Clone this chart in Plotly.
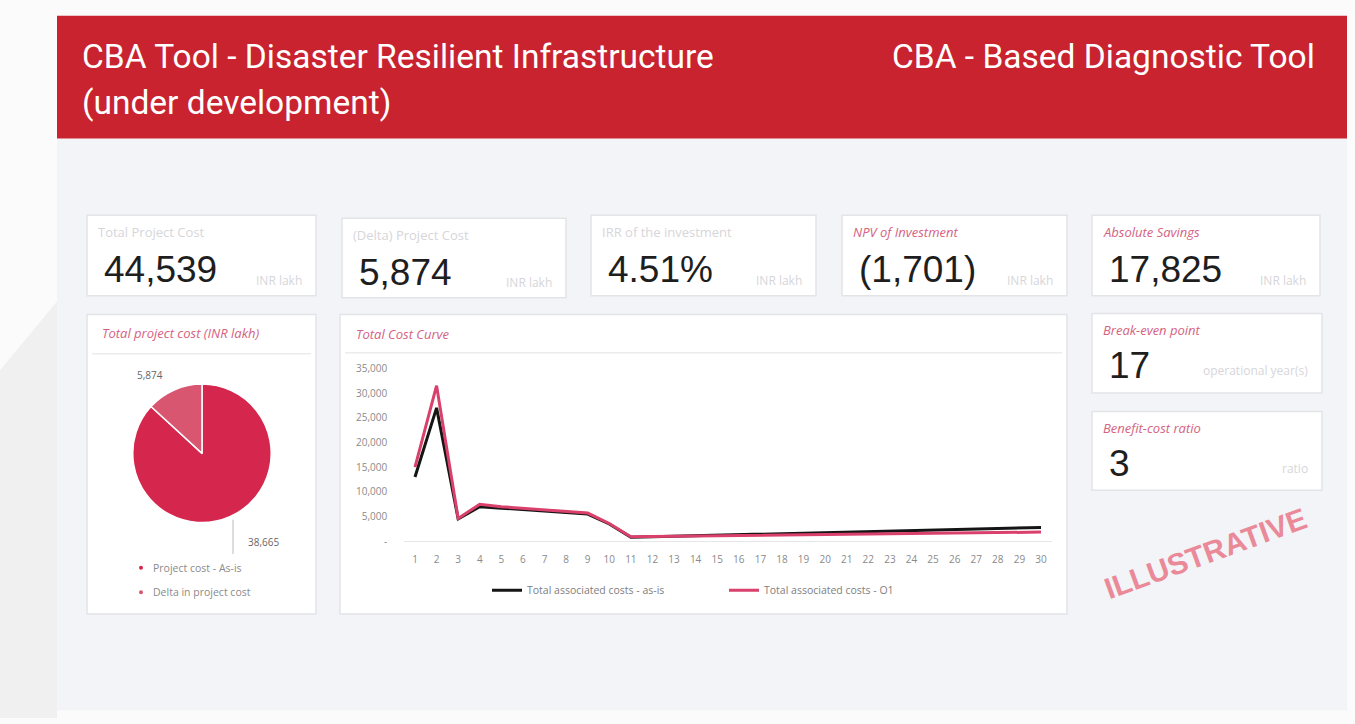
import plotly.graph_objects as go

W, H = 1355, 724

# ---------------- data ----------------
periods = list(range(1, 31))
cost_as_is = [13000, 27000, 4500, 7000, 6700, 6400, 6100, 5800, 5500, 3500,
              800, 900, 1000, 1100, 1200, 1300, 1400, 1500, 1600, 1700,
              1800, 1900, 2000, 2100, 2200, 2300, 2400, 2500, 2700, 2800]
cost_o1 = [15000, 31500, 4600, 7500, 7000, 6700, 6300, 6000, 5700, 3600,
           900, 950, 1000, 1050, 1100, 1150, 1200, 1250, 1300, 1350,
           1400, 1450, 1500, 1550, 1600, 1650, 1700, 1750, 1800, 1850]
series_names = ["Total associated costs - as-is", "Total associated costs - O1"]

pie_labels = ["Project cost - As-is", "Delta in project cost"]
pie_values = [38665, 5874]

y_tickvals = [0, 5000, 10000, 15000, 20000, 25000, 30000, 35000]
y_ticktext = ["-", "5,000", "10,000", "15,000", "20,000", "25,000", "30,000", "35,000"]

kpi_titles = ["Total Project Cost", "(Delta) Project Cost", "IRR of the investment",
              "NPV of Investment", "Absolute Savings", "Break-even point", "Benefit-cost ratio"]
kpi_values = ["44,539", "5,874", "4.51%", "(1,701)", "17,825", "17", "3"]
kpi_units = ["INR lakh", "INR lakh", "INR lakh", "INR lakh", "INR lakh",
             "operational year(s)", "ratio"]

header_left = ["CBA Tool - Disaster Resilient Infrastructure", "(under development)"]
header_right = "CBA - Based Diagnostic Tool"
watermark = "ILLUSTRATIVE"

# ---------------- styles ----------------
RED = "#c8232f"
PINK = "#d9416c"
TITLE_PINK = "#d6627f"
FAINT = "#d6d6da"
CARD_BORDER = "#e3e4e8"
NUM_FONT = "Liberation Sans, Arial, sans-serif"
SMALL_FONT = "Open Sans, Liberation Sans, sans-serif"
HEAD_FONT = "Roboto, sans-serif"


def px(x):
    return x / W


def py(y):
    return 1 - y / H


shapes = []
annotations = []


def rect(x0, y0, x1, y1, fill, line=None, lw=0):
    shapes.append(dict(type="rect", xref="paper", yref="paper",
                       x0=px(x0), x1=px(x1), y0=py(y1), y1=py(y0),
                       fillcolor=fill, line=dict(color=line or fill, width=lw),
                       layer="below"))


def hline(x0, x1, y, color, w=1):
    shapes.append(dict(type="line", xref="paper", yref="paper",
                       x0=px(x0), x1=px(x1), y0=py(y), y1=py(y),
                       line=dict(color=color, width=w), layer="below"))


def text(x, y, s, size, color, family=NUM_FONT, xanchor="left", italic=False, angle=0, bold=False):
    if italic:
        s = "<i>" + s + "</i>"
    if bold:
        s = "<b>" + s + "</b>"
    annotations.append(dict(xref="paper", yref="paper", x=px(x), y=py(y), text=s,
                            showarrow=False, xanchor=xanchor, yanchor="middle",
                            textangle=angle,
                            font=dict(size=size, color=color, family=family)))


# background pieces
rect(0, 0, W, H, "#fbfbfb")
shapes.append(dict(type="path", xref="paper", yref="paper",
                   path=f"M {px(0)},{py(370)} L {px(57)},{py(300)} L {px(57)},{py(724)} L {px(0)},{py(724)} Z",
                   fillcolor="#f0f0f1", line=dict(width=0), layer="below"))
rect(57, 134, 1347, 716, "#f3f4f8")
rect(57, 9, 1347, 134, RED)

# header text
text(80, 50, header_left[0], 33.5, "white", HEAD_FONT)
text(80, 97, header_left[1], 33.5, "white", HEAD_FONT)
text(1317, 50, header_right, 33.5, "white", HEAD_FONT, xanchor="right")

# KPI cards
cards = [(87, 212, 316, 294), (342, 215, 566, 296), (591, 212, 816, 294),
         (842, 212, 1067, 294), (1092, 212, 1320, 294),
         (1092, 312, 1322, 393), (1092, 412, 1322, 492)]
for i, (x0, y0, x1, y1) in enumerate(cards):
    rect(x0, y0, x1, y1, "white", CARD_BORDER, 1.5)
    pink = i >= 3
    text(x0 + 9, y0 + 17, kpi_titles[i], 13, TITLE_PINK if pink else FAINT,
         family=SMALL_FONT, italic=pink)
    text(x0 + 15, y0 + 55 if i < 5 else y0 + 53, kpi_values[i], 37, "#1e1e1e")
    text(x1 - 12, y0 + 66 if i < 5 else y0 + 58, kpi_units[i], 12, FAINT,
         family=SMALL_FONT, xanchor="right")

# pie card
rect(87, 313, 316, 618, "white", CARD_BORDER, 1.5)
text(100, 332, "Total project cost (INR lakh)", 13, TITLE_PINK, family=SMALL_FONT, italic=True)
hline(92, 311, 353, "#ececef", 1.5)

# line card
rect(340, 313, 1067, 618, "white", CARD_BORDER, 1.5)
text(354, 333, "Total Cost Curve", 13, TITLE_PINK, family=SMALL_FONT, italic=True)
hline(345, 1062, 352, "#ececef", 1.5)

# pie labels and legend
pie_colors = ["#d5264e", "#d8566f"]
text(150, 375, f"{pie_values[1]:,}", 10, "#666", family=SMALL_FONT, xanchor="center")
text(263, 545, f"{pie_values[0]:,}", 10, "#666", family=SMALL_FONT, xanchor="center")
shapes.append(dict(type="line", xref="paper", yref="paper",
                   x0=px(233), x1=px(233), y0=py(522), y1=py(557),
                   line=dict(color="#bbbbbb", width=1)))
for k, (lab, col) in enumerate(zip(pie_labels, pie_colors)):
    yy = 571 + 25 * k
    shapes.append(dict(type="circle", xref="paper", yref="paper",
                       x0=px(139), x1=px(143), y0=py(yy + 2), y1=py(yy - 2),
                       fillcolor=col, line=dict(width=0)))
    text(151, yy, lab, 10.5, "#8a8a8a", family=SMALL_FONT)

# watermark
text(1205, 556, watermark, 30, "#ea8a99", "Liberation Sans, Arial, sans-serif",
     xanchor="center", angle=-20, bold=True)

fig = go.Figure()

fig.add_trace(go.Scatter(x=periods, y=cost_as_is, mode="lines", name=series_names[0],
                         line=dict(color="#151515", width=3),
                         xaxis="x", yaxis="y"))
fig.add_trace(go.Scatter(x=periods, y=cost_o1, mode="lines", name=series_names[1],
                         line=dict(color=PINK, width=3),
                         xaxis="x", yaxis="y"))
fig.add_trace(go.Pie(labels=pie_labels, values=pie_values, sort=False,
                     direction="clockwise", rotation=0,
                     marker=dict(colors=pie_colors, line=dict(color="white", width=1.5)),
                     textinfo="none", showlegend=False, hoverinfo="label+value",
                     domain=dict(x=[px(131), px(273)], y=[py(525), py(384)])))

fig.update_layout(
    width=W, height=H,
    margin=dict(l=0, r=0, t=0, b=0),
    paper_bgcolor="#fbfbfb",
    plot_bgcolor="rgba(0,0,0,0)",
    shapes=shapes,
    annotations=annotations,
    showlegend=True,
    legend=dict(orientation="h", x=px(487), y=py(594), xanchor="left", yanchor="middle",
                font=dict(size=10.5, color="#808080", family=SMALL_FONT),
                bgcolor="rgba(0,0,0,0)", itemwidth=30,
                entrywidth=192, entrywidthmode="pixels"),
    xaxis=dict(domain=[px(404.2), px(1051.8)], range=[0.5, 30.5],
               tickmode="array", tickvals=periods,
               tickfont=dict(size=10, color="#8a8a8a", family=SMALL_FONT),
               showgrid=False, zeroline=False, showline=True, linecolor="#e6e6e6",
               linewidth=1, ticks="", ticklabelstandoff=9, fixedrange=True),
    yaxis=dict(domain=[py(544), py(368)], range=[0, 35000],
               tickmode="array", tickvals=y_tickvals, ticktext=y_ticktext,
               tickfont=dict(size=10, color="#8a8a8a", family=SMALL_FONT),
               showgrid=False, zeroline=False, showline=False, ticks="",
               ticklabelstandoff=16, fixedrange=True),
)

fig.write_html("out.html", config={"displayModeBar": False},
               post_script="document.body.style.margin='0';document.body.style.overflow='hidden';")
